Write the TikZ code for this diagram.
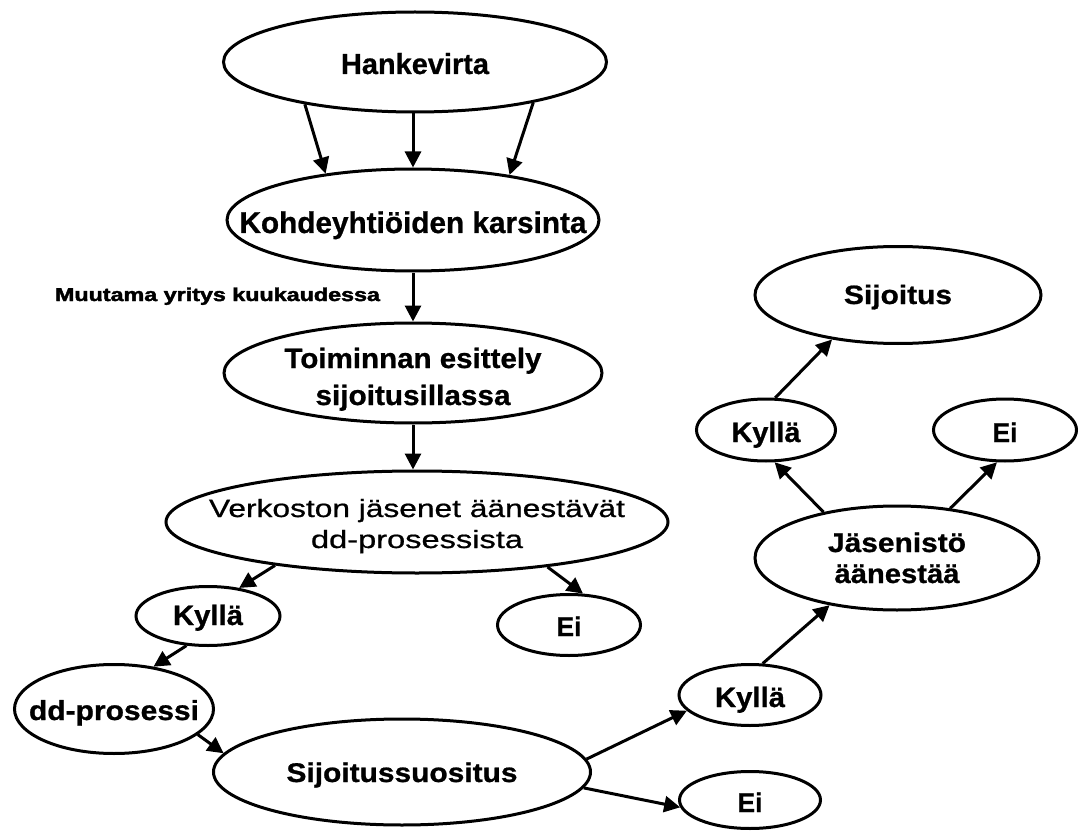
\documentclass[tikz,border=0pt]{standalone}
\usepackage{fontspec}
\usepackage{graphicx}
\setmainfont{Liberation Sans}[BoldFeatures={FakeBold=0.8}]
\newfontfamily\heavyfam{Liberation Sans}[BoldFeatures={FakeBold=2}]
\newfontface\medface{Liberation Sans}[FakeBold=0.7]
\usetikzlibrary{shapes.geometric,arrows.meta}

% one line of text, stretched horizontally to a given width, zero-width box
\newcommand\fitw[2]{\makebox[0pt]{\resizebox{#1}{\height}{#2}}}

\tikzset{
  bubble/.style={draw, ellipse, line width=3pt, inner sep=0pt, fill=white, text depth=0pt},
  flow/.style={line width=3pt, -{Triangle[length=16pt,width=16pt]}},
  bsize/.style={font=\fontsize{#1}{#1}\selectfont\bfseries}
}

\begin{document}
\begin{tikzpicture}[x=1pt,y=-1pt]
\fill[white, use as bounding box] (0,0) rectangle (1080,832);

% main chain
\node[bubble, minimum width=383pt, minimum height=100pt, bsize=29, text height=24pt]
  (hank) at (415,62) {\fitw{148pt}{Hankevirta}};
\node[bubble, minimum width=372pt, minimum height=102pt, bsize=30, text height=26pt]
  (karsinta) at (413,220) {\fitw{347pt}{Kohdeyhtiöiden karsinta}};
\node[font=\heavyfam\fontsize{18.6}{18.6}\selectfont\bfseries, inner sep=0pt, text height=14pt, text depth=0pt]
  (kuukausi) at (217.5,294) {\fitw{325pt}{Muutama yritys kuukaudessa}};
\node[bubble, minimum width=378pt, minimum height=100pt, font=\fontsize{28}{37}\selectfont\bfseries,
  align=center, text height=64pt]
  (esittely) at (413,373) {\fitw{257pt}{Toiminnan esittely}\\\fitw{195pt}{sijoitusillassa}};
\node[bubble, minimum width=502pt, minimum height=102pt, font=\medface\fontsize{25}{31}\selectfont,
  align=center, text height=52pt]
  (aanestys) at (417,522) {\fitw{416pt}{Verkoston jäsenet äänestävät}\\\fitw{212pt}{dd-prosessista}};

% first vote
\node[bubble, minimum width=144pt, minimum height=59pt, bsize=28, text height=18pt]
  (kylla1) at (208,616) {\fitw{70pt}{Kyllä}};
\node[bubble, minimum width=143pt, minimum height=61pt, bsize=27, text height=22pt]
  (ei1) at (569,625) {\fitw{25pt}{Ei}};
\node[bubble, minimum width=199pt, minimum height=89pt, bsize=27.5, text height=22pt]
  (dd) at (114,709) {\fitw{170pt}{dd-prosessi}};
\node[bubble, minimum width=377pt, minimum height=106pt, bsize=27, text height=20pt]
  (suositus) at (402,772) {\fitw{231pt}{Sijoitussuositus}};

% recommendation and members' vote
\node[bubble, minimum width=142pt, minimum height=61pt, bsize=28, text height=24pt]
  (kylla2) at (750,695) {\fitw{70pt}{Kyllä}};
\node[bubble, minimum width=141pt, minimum height=57pt, bsize=27, text height=24pt]
  (ei2) at (750,800) {\fitw{25pt}{Ei}};
\node[bubble, minimum width=284pt, minimum height=104pt, font=\fontsize{27}{31}\selectfont\bfseries,
  align=center, text height=50pt]
  (jasenisto) at (897,558) {\fitw{138pt}{Jäsenistö}\\\fitw{125pt}{äänestää}};
\node[bubble, minimum width=139pt, minimum height=62pt, bsize=28, text height=24pt]
  (kylla3) at (766,430) {\fitw{69pt}{Kyllä}};
\node[bubble, minimum width=143pt, minimum height=62pt, bsize=27, text height=24pt]
  (ei3) at (1005,430) {\fitw{25pt}{Ei}};
\node[bubble, minimum width=286pt, minimum height=97pt, bsize=26.5, text height=18pt]
  (sijoitus) at (898,295) {\fitw{108pt}{Sijoitus}};

% connectors
\draw[flow] (hank.201) -- (karsinta.152);
\draw[flow] (karsinta.north |- hank.south) -- (karsinta.north);
\draw[flow] (hank.341) -- (karsinta.25);
\draw[flow] (karsinta.south) -- (esittely.north);
\draw[flow] (esittely.south) -- (esittely.south |- aanestys.north);
\draw[flow] (aanestys.197) -- (kylla1.42);
\draw[flow] (aanestys.341) -- (ei1.66);
\draw[flow] (kylla1.234) -- (dd.47);
\draw[flow] (dd.343) -- (suositus.174);
\draw[flow] (suositus.4) -- (kylla2.194);
\draw[flow] (suositus.355) -- (ei2.186);
\draw[flow] (kylla2.68) -- (jasenisto.215);
\draw[flow] (jasenisto.148) -- (kylla3.285);
\draw[flow] (jasenisto.43) -- (ei3.256);
\draw[flow] (kylla3.74) -- (sijoitus.214);
\end{tikzpicture}
\end{document}
